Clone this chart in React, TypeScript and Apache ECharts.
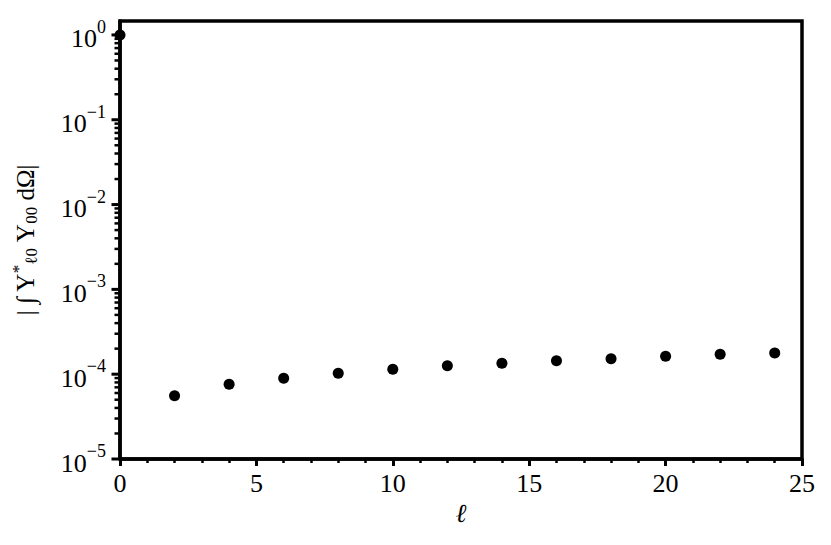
import React, { useEffect, useRef } from "react";
import * as echarts from "echarts";

// Data
const ELL: number[] = [0, 2, 4, 6, 8, 10, 12, 14, 16, 18, 20, 22, 24];
const OVERLAP: number[] = [
  1.0, 5.57e-5, 7.6e-5, 8.95e-5, 1.025e-4, 1.143e-4, 1.259e-4, 1.344e-4,
  1.442e-4, 1.524e-4, 1.626e-4, 1.717e-4, 1.778e-4,
];

// Axis settings
const X_MIN = 0;
const X_MAX = 25;
const X_INTERVAL = 5;
const Y_MIN = 1e-5;
const Y_MAX = 1.46;
const Y_DECADE_EXPONENTS: number[] = [-5, -4, -3, -2, -1, 0];
const MINOR_MULTIPLIERS: number[] = [2, 3, 4, 5, 6, 7, 8, 9];

const FONT = "Liberation Serif";

export default function App() {
  const ref = useRef<HTMLDivElement>(null);

  useEffect(() => {
    if (!ref.current) return;
    const chart = echarts.init(ref.current, undefined, { renderer: "svg" });

    // y-axis tick positions (major decades + log minor ticks)
    const yTicks: number[][] = [];
    Y_DECADE_EXPONENTS.forEach((e) => {
      yTicks.push([0, Math.pow(10, e), 1]);
      MINOR_MULTIPLIERS.forEach((m) => {
        const v = m * Math.pow(10, e);
        if (v <= Y_MAX) yTicks.push([0, v, 0]);
      });
    });

    const option: any = {
      animation: false,
      backgroundColor: "#ffffff",
      textStyle: { fontFamily: FONT },
      grid: {
        left: 120,
        right: 29,
        top: 21,
        bottom: 86,
        show: true,
        borderColor: "#000",
        borderWidth: 3.5,
        containLabel: false,
      },
      xAxis: {
        type: "value",
        min: X_MIN,
        max: X_MAX,
        interval: X_INTERVAL,
        name: "ℓ",
        nameLocation: "middle",
        nameGap: 40,
        nameTextStyle: {
          fontFamily: FONT,
          fontSize: 26,
          fontStyle: "italic",
          color: "#000",
        },
        axisLine: { show: true, onZero: false, lineStyle: { color: "#000", width: 3.5 } },
        axisTick: { show: true, inside: false, length: 7, lineStyle: { color: "#000", width: 3 } },
        minorTick: { show: true, splitNumber: 5, length: 4, lineStyle: { color: "#000", width: 2.5 } },
        splitLine: { show: false },
        minorSplitLine: { show: false },
        axisLabel: {
          fontFamily: FONT,
          fontSize: 26,
          color: "#000",
          margin: 11,
        },
      },
      yAxis: {
        type: "log",
        logBase: 10,
        min: Y_MIN,
        max: Y_MAX,
        name: "{t|| ∫ Y}{sup|*}{sub|ℓ0}{t| Y}{sub|00}{t| dΩ|}",
        nameLocation: "middle",
        nameRotate: 90,
        nameGap: 80,
        nameTextStyle: {
          fontFamily: FONT,
          color: "#000",
          rich: {
            t: { fontFamily: FONT, fontSize: 25, color: "#000", lineHeight: 30, verticalAlign: "middle" },
            sup: { fontFamily: FONT, fontSize: 17, color: "#000", lineHeight: 16, verticalAlign: "top" },
            sub: { fontFamily: FONT, fontSize: 17, color: "#000", lineHeight: 16, verticalAlign: "bottom" },
          },
        },
        axisLine: { show: true, onZero: false, lineStyle: { color: "#000", width: 3.5 } },
        axisTick: { show: false },
        minorTick: { show: false },
        splitLine: { show: false },
        minorSplitLine: { show: false },
        axisLabel: {
          margin: 14,
          formatter: (value: number) => {
            const l = Math.log10(value);
            const e = Math.round(l);
            if (Math.abs(l - e) > 1e-6) return "";
            const s = (e < 0 ? "−" : "") + Math.abs(e);
            return `{b|10}{s|${s}}`;
          },
          rich: {
            b: { fontFamily: FONT, fontSize: 26, color: "#000", lineHeight: 34, verticalAlign: "bottom" },
            s: { fontFamily: FONT, fontSize: 18, color: "#000", lineHeight: 14, verticalAlign: "top" },
          },
        },
      },
      series: [
        {
          type: "custom",
          silent: true,
          clip: false,
          data: yTicks,
          encode: { x: 0, y: 1 },
          renderItem: (params: any, api: any) => {
            const v = api.value(1);
            const major = api.value(2) === 1;
            const p = api.coord([X_MIN, v]);
            const len = major ? 7 : 4;
            return {
              type: "line",
              shape: { x1: p[0] - 1.5 - len, y1: p[1], x2: p[0] - 1.5, y2: p[1] },
              style: { stroke: "#000", lineWidth: major ? 3 : 2.5 },
            };
          },
          z: 5,
        },
        {
          type: "scatter",
          data: ELL.map((x, i) => [x, OVERLAP[i]]),
          symbol: "circle",
          symbolSize: 11,
          clip: false,
          itemStyle: { color: "#000", opacity: 1 },
          z: 10,
        },
      ],
    };

    chart.setOption(option);
    return () => {
      chart.dispose();
    };
  }, []);

  return (
    <div
      ref={ref}
      style={{ position: "fixed", left: 0, top: 0, width: 831, height: 545, background: "#fff" }}
    />
  );
}
